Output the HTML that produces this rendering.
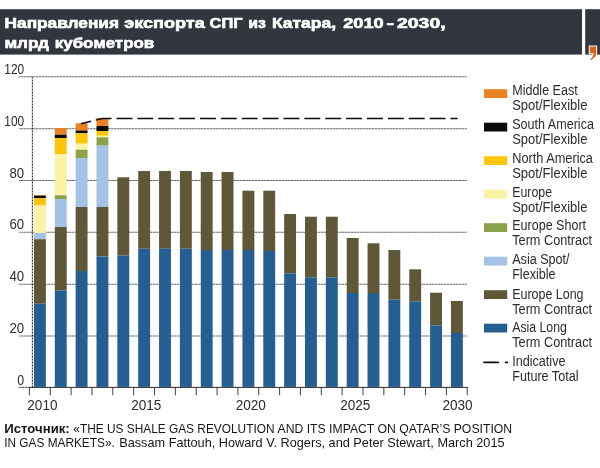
<!DOCTYPE html>
<html lang="ru"><head><meta charset="utf-8"><title>Направления экспорта СПГ из Катара</title>
<style>
html,body{margin:0;padding:0;background:#fff;}
body{width:600px;height:468px;overflow:hidden;}
svg{display:block;}
text{font-family:"Liberation Sans",sans-serif;}
.t{font-weight:bold;font-size:14px;fill:#fff;stroke:#fff;stroke-width:.6px;}
.l{font-size:14px;fill:#2c2c2c;}
.a{font-size:14.3px;fill:#2c2c2c;}
.s{font-size:12.6px;fill:#161616;}
.g{stroke:#2c2c2c;stroke-width:1.1;stroke-dasharray:.9 .6;fill:none;}
</style></head><body>
<svg width="600" height="468" viewBox="0 0 600 468">
<rect width="600" height="468" fill="#fff"/>
<rect x="0" y="9.2" width="582" height="45.4" fill="#31363f"/>
<rect x="585.2" y="9.2" width="14.8" height="45.4" fill="#31363f"/>
<path d="M589.7 46.6H596.2V53.5C596.2 56.6 593.6 58.6 591 59.9L590.2 59C592 58 593.4 56.2 593.5 53.2H589.7Z" fill="#dc601d" stroke="#fff" stroke-width="2" stroke-linejoin="miter" paint-order="stroke"/>
<text class="t" y="27.8"><tspan x="4.6" textLength="114.4" lengthAdjust="spacingAndGlyphs">Направления</tspan> <tspan x="124.2" textLength="80.6" lengthAdjust="spacingAndGlyphs">экспорта</tspan> <tspan x="209.6" textLength="33" lengthAdjust="spacingAndGlyphs">СПГ</tspan> <tspan x="248.2" textLength="17.6" lengthAdjust="spacingAndGlyphs">из</tspan> <tspan x="272" textLength="64" lengthAdjust="spacingAndGlyphs">Катара,</tspan> <tspan x="343.2" textLength="40.6" lengthAdjust="spacingAndGlyphs">2010</tspan><tspan x="386.6" textLength="7.6" lengthAdjust="spacingAndGlyphs">-</tspan><tspan x="397" textLength="48.6" lengthAdjust="spacingAndGlyphs">2030,</tspan></text>
<text class="t" y="47.8" style="font-size:14.8px"><tspan x="4.4" textLength="44.6" lengthAdjust="spacingAndGlyphs">млрд</tspan> <tspan x="54.8" textLength="99.4" lengthAdjust="spacingAndGlyphs">кубометров</tspan></text>

<line class="g" x1="19.3" y1="76.8" x2="466.8" y2="76.8"/>
<line class="g" x1="19.3" y1="128.75" x2="466.8" y2="128.75"/>
<line class="g" x1="19.3" y1="180.5" x2="466.8" y2="180.5"/>
<line class="g" x1="19.3" y1="232.3" x2="466.8" y2="232.3"/>
<line class="g" x1="19.3" y1="284.25" x2="466.8" y2="284.25"/>
<line class="g" x1="19.3" y1="336" x2="466.8" y2="336"/>
<line class="g" x1="32.4" y1="77" x2="32.4" y2="387"/>
<text class="a" x="4.30" y="73.7" textLength="19.80" lengthAdjust="spacingAndGlyphs">120</text>
<text class="a" x="4.30" y="125.7" textLength="19.80" lengthAdjust="spacingAndGlyphs">100</text>
<text class="a" x="9.40" y="177.5" textLength="14.70" lengthAdjust="spacingAndGlyphs">80</text>
<text class="a" x="9.40" y="229.3" textLength="14.70" lengthAdjust="spacingAndGlyphs">60</text>
<text class="a" x="9.40" y="281.2" textLength="14.70" lengthAdjust="spacingAndGlyphs">40</text>
<text class="a" x="9.40" y="333" textLength="14.70" lengthAdjust="spacingAndGlyphs">20</text>
<text class="a" x="17.20" y="384.8" textLength="6.90" lengthAdjust="spacingAndGlyphs">0</text>
<rect x="33.95" y="195" width="11.9" height="0.70" fill="#e98223"/>
<rect x="33.95" y="195.7" width="11.9" height="2.60" fill="#0b0b0b"/>
<rect x="33.95" y="198.3" width="11.9" height="7.20" fill="#fdc60b"/>
<rect x="33.95" y="205.5" width="11.9" height="27.50" fill="#faf2a6"/>
<rect x="33.95" y="233" width="11.9" height="6.20" fill="#a4c2e3"/>
<rect x="33.95" y="239.2" width="11.9" height="64.55" fill="#5f5838"/>
<rect x="33.95" y="303.75" width="11.9" height="83.15" fill="#255f92"/>
<rect x="54.80" y="128" width="11.9" height="6.70" fill="#e98223"/>
<rect x="54.80" y="134.7" width="11.9" height="3.30" fill="#0b0b0b"/>
<rect x="54.80" y="138" width="11.9" height="16.30" fill="#fdc60b"/>
<rect x="54.80" y="154.3" width="11.9" height="41.00" fill="#faf2a6"/>
<rect x="54.80" y="195.3" width="11.9" height="3.70" fill="#8ba24a"/>
<rect x="54.80" y="199" width="11.9" height="28.00" fill="#a4c2e3"/>
<rect x="54.80" y="227" width="11.9" height="63.50" fill="#5f5838"/>
<rect x="54.80" y="290.5" width="11.9" height="96.40" fill="#255f92"/>
<rect x="75.65" y="123.3" width="11.9" height="7.20" fill="#e98223"/>
<rect x="75.65" y="130.5" width="11.9" height="2.80" fill="#0b0b0b"/>
<rect x="75.65" y="133.3" width="11.9" height="10.40" fill="#fdc60b"/>
<rect x="75.65" y="143.7" width="11.9" height="6.00" fill="#faf2a6"/>
<rect x="75.65" y="149.7" width="11.9" height="8.30" fill="#8ba24a"/>
<rect x="75.65" y="158" width="11.9" height="49.00" fill="#a4c2e3"/>
<rect x="75.65" y="207" width="11.9" height="64.00" fill="#5f5838"/>
<rect x="75.65" y="271" width="11.9" height="115.90" fill="#255f92"/>
<rect x="96.50" y="118" width="11.9" height="8.00" fill="#e98223"/>
<rect x="96.50" y="126" width="11.9" height="5.00" fill="#0b0b0b"/>
<rect x="96.50" y="131" width="11.9" height="4.80" fill="#fdc60b"/>
<rect x="96.50" y="135.8" width="11.9" height="1.50" fill="#faf2a6"/>
<rect x="96.50" y="137.3" width="11.9" height="8.40" fill="#8ba24a"/>
<rect x="96.50" y="145.7" width="11.9" height="61.30" fill="#a4c2e3"/>
<rect x="96.50" y="207" width="11.9" height="49.50" fill="#5f5838"/>
<rect x="96.50" y="256.5" width="11.9" height="130.40" fill="#255f92"/>
<rect x="117.35" y="177.3" width="11.9" height="78.30" fill="#5f5838"/>
<rect x="117.35" y="255.6" width="11.9" height="131.30" fill="#255f92"/>
<rect x="138.20" y="171" width="11.9" height="77.70" fill="#5f5838"/>
<rect x="138.20" y="248.7" width="11.9" height="138.20" fill="#255f92"/>
<rect x="159.05" y="171" width="11.9" height="77.70" fill="#5f5838"/>
<rect x="159.05" y="248.7" width="11.9" height="138.20" fill="#255f92"/>
<rect x="179.90" y="171" width="11.9" height="77.70" fill="#5f5838"/>
<rect x="179.90" y="248.7" width="11.9" height="138.20" fill="#255f92"/>
<rect x="200.75" y="172" width="11.9" height="78.00" fill="#5f5838"/>
<rect x="200.75" y="250" width="11.9" height="136.90" fill="#255f92"/>
<rect x="221.60" y="172" width="11.9" height="78.00" fill="#5f5838"/>
<rect x="221.60" y="250" width="11.9" height="136.90" fill="#255f92"/>
<rect x="242.45" y="190.7" width="11.9" height="59.30" fill="#5f5838"/>
<rect x="242.45" y="250" width="11.9" height="136.90" fill="#255f92"/>
<rect x="263.30" y="190.7" width="11.9" height="60.30" fill="#5f5838"/>
<rect x="263.30" y="251" width="11.9" height="135.90" fill="#255f92"/>
<rect x="284.15" y="214" width="11.9" height="59.30" fill="#5f5838"/>
<rect x="284.15" y="273.3" width="11.9" height="113.60" fill="#255f92"/>
<rect x="305.00" y="216.7" width="11.9" height="60.60" fill="#5f5838"/>
<rect x="305.00" y="277.3" width="11.9" height="109.60" fill="#255f92"/>
<rect x="325.85" y="216.7" width="11.9" height="60.60" fill="#5f5838"/>
<rect x="325.85" y="277.3" width="11.9" height="109.60" fill="#255f92"/>
<rect x="346.70" y="238" width="11.9" height="55.00" fill="#5f5838"/>
<rect x="346.70" y="293" width="11.9" height="93.90" fill="#255f92"/>
<rect x="367.55" y="243.3" width="11.9" height="49.70" fill="#5f5838"/>
<rect x="367.55" y="293" width="11.9" height="93.90" fill="#255f92"/>
<rect x="388.40" y="250" width="11.9" height="49.70" fill="#5f5838"/>
<rect x="388.40" y="299.7" width="11.9" height="87.20" fill="#255f92"/>
<rect x="409.25" y="269.3" width="11.9" height="32.00" fill="#5f5838"/>
<rect x="409.25" y="301.3" width="11.9" height="85.60" fill="#255f92"/>
<rect x="430.10" y="292.7" width="11.9" height="32.60" fill="#5f5838"/>
<rect x="430.10" y="325.3" width="11.9" height="61.60" fill="#255f92"/>
<rect x="450.95" y="301" width="11.9" height="32.00" fill="#5f5838"/>
<rect x="450.95" y="333" width="11.9" height="53.90" fill="#255f92"/>
<path d="M81 123.8L102 118.6H457.6" fill="none" stroke="#0b0b0b" stroke-width="1.5" stroke-dasharray="15.9 4.975" stroke-dashoffset="5.6"/>
<line class="g" x1="18.8" y1="387.4" x2="29.4" y2="387.4"/>
<line x1="29" y1="387.4" x2="467.7" y2="387.4" stroke="#2a2a2a" stroke-width="1"/>
<line x1="29.40" y1="387.4" x2="29.40" y2="395.2" stroke="#2a2a2a" stroke-width=".9"/>
<line x1="50.25" y1="387.4" x2="50.25" y2="395.2" stroke="#2a2a2a" stroke-width=".9"/>
<line x1="71.10" y1="387.4" x2="71.10" y2="395.2" stroke="#2a2a2a" stroke-width=".9"/>
<line x1="91.95" y1="387.4" x2="91.95" y2="395.2" stroke="#2a2a2a" stroke-width=".9"/>
<line x1="112.80" y1="387.4" x2="112.80" y2="395.2" stroke="#2a2a2a" stroke-width=".9"/>
<line x1="133.65" y1="387.4" x2="133.65" y2="395.2" stroke="#2a2a2a" stroke-width=".9"/>
<line x1="154.50" y1="387.4" x2="154.50" y2="395.2" stroke="#2a2a2a" stroke-width=".9"/>
<line x1="175.35" y1="387.4" x2="175.35" y2="395.2" stroke="#2a2a2a" stroke-width=".9"/>
<line x1="196.20" y1="387.4" x2="196.20" y2="395.2" stroke="#2a2a2a" stroke-width=".9"/>
<line x1="217.05" y1="387.4" x2="217.05" y2="395.2" stroke="#2a2a2a" stroke-width=".9"/>
<line x1="237.90" y1="387.4" x2="237.90" y2="395.2" stroke="#2a2a2a" stroke-width=".9"/>
<line x1="258.75" y1="387.4" x2="258.75" y2="395.2" stroke="#2a2a2a" stroke-width=".9"/>
<line x1="279.60" y1="387.4" x2="279.60" y2="395.2" stroke="#2a2a2a" stroke-width=".9"/>
<line x1="300.45" y1="387.4" x2="300.45" y2="395.2" stroke="#2a2a2a" stroke-width=".9"/>
<line x1="321.30" y1="387.4" x2="321.30" y2="395.2" stroke="#2a2a2a" stroke-width=".9"/>
<line x1="342.15" y1="387.4" x2="342.15" y2="395.2" stroke="#2a2a2a" stroke-width=".9"/>
<line x1="363.00" y1="387.4" x2="363.00" y2="395.2" stroke="#2a2a2a" stroke-width=".9"/>
<line x1="383.85" y1="387.4" x2="383.85" y2="395.2" stroke="#2a2a2a" stroke-width=".9"/>
<line x1="404.70" y1="387.4" x2="404.70" y2="395.2" stroke="#2a2a2a" stroke-width=".9"/>
<line x1="425.55" y1="387.4" x2="425.55" y2="395.2" stroke="#2a2a2a" stroke-width=".9"/>
<line x1="446.40" y1="387.4" x2="446.40" y2="395.2" stroke="#2a2a2a" stroke-width=".9"/>
<line x1="467.25" y1="387.4" x2="467.25" y2="395.2" stroke="#2a2a2a" stroke-width=".9"/>
<text class="a" x="27.3" y="409.9" textLength="30.2" lengthAdjust="spacingAndGlyphs">2010</text>
<text class="a" x="131.2" y="409.9" textLength="30.2" lengthAdjust="spacingAndGlyphs">2015</text>
<text class="a" x="235.7" y="409.9" textLength="30.2" lengthAdjust="spacingAndGlyphs">2020</text>
<text class="a" x="340.2" y="409.9" textLength="30.2" lengthAdjust="spacingAndGlyphs">2025</text>
<text class="a" x="442.4" y="409.9" textLength="30.2" lengthAdjust="spacingAndGlyphs">2030</text>
<rect x="484" y="89.20" width="23.2" height="8.8" fill="#e98223"/>
<rect x="484" y="122.70" width="23.2" height="8.8" fill="#0b0b0b"/>
<rect x="484" y="156.20" width="23.2" height="8.8" fill="#fdc60b"/>
<rect x="484" y="189.70" width="23.2" height="8.8" fill="#faf2a6"/>
<rect x="484" y="223.20" width="23.2" height="8.8" fill="#8ba24a"/>
<rect x="484" y="256.70" width="23.2" height="8.8" fill="#a4c2e3"/>
<rect x="484" y="290.20" width="23.2" height="8.8" fill="#5f5838"/>
<rect x="484" y="323.70" width="23.2" height="8.8" fill="#255f92"/>
<path d="M484.2 362.4H498.2M505.9 362.4h1.3" stroke="#0b0b0b" stroke-width="1.9" stroke-linecap="round" fill="none"/>
<text class="l" x="512.2" y="94.55" textLength="65.5" lengthAdjust="spacingAndGlyphs">Middle East</text>
<text class="l" x="512.2" y="109.55" textLength="75.2" lengthAdjust="spacingAndGlyphs">Spot/Flexible</text>
<text class="l" x="512.2" y="128.75" textLength="81.75" lengthAdjust="spacingAndGlyphs">South America</text>
<text class="l" x="512.2" y="143.75" textLength="75.2" lengthAdjust="spacingAndGlyphs">Spot/Flexible</text>
<text class="l" x="512.2" y="162.65" textLength="80.75" lengthAdjust="spacingAndGlyphs">North America</text>
<text class="l" x="512.2" y="177.65" textLength="75.2" lengthAdjust="spacingAndGlyphs">Spot/Flexible</text>
<text class="l" x="512.2" y="196.55" textLength="39.9" lengthAdjust="spacingAndGlyphs">Europe</text>
<text class="l" x="512.2" y="211.55" textLength="75.2" lengthAdjust="spacingAndGlyphs">Spot/Flexible</text>
<text class="l" x="512.2" y="230.35" textLength="73.9" lengthAdjust="spacingAndGlyphs">Europe Short</text>
<text class="l" x="512.2" y="245.35" textLength="79.9" lengthAdjust="spacingAndGlyphs">Term Contract</text>
<text class="l" x="512.2" y="264.15" textLength="57.4" lengthAdjust="spacingAndGlyphs">Asia Spot/</text>
<text class="l" x="512.2" y="279.15" textLength="43.3" lengthAdjust="spacingAndGlyphs">Flexible</text>
<text class="l" x="512.2" y="298.65" textLength="71.3" lengthAdjust="spacingAndGlyphs">Europe Long</text>
<text class="l" x="512.2" y="313.65" textLength="79.9" lengthAdjust="spacingAndGlyphs">Term Contract</text>
<text class="l" x="512.2" y="332.40" textLength="54.6" lengthAdjust="spacingAndGlyphs">Asia Long</text>
<text class="l" x="512.2" y="347.40" textLength="79.9" lengthAdjust="spacingAndGlyphs">Term Contract</text>
<text class="l" x="512.2" y="366.15" textLength="53.3" lengthAdjust="spacingAndGlyphs">Indicative</text>
<text class="l" x="512.2" y="381.15" textLength="66.3" lengthAdjust="spacingAndGlyphs">Future Total</text>
<text class="s" y="433.3"><tspan x="4.3" font-weight="bold" textLength="65.4" lengthAdjust="spacingAndGlyphs">Источник:</tspan> <tspan x="73.3" textLength="201.2" lengthAdjust="spacingAndGlyphs">«THE US SHALE GAS REVOLUTION</tspan> <tspan x="277.5" textLength="234.6" lengthAdjust="spacingAndGlyphs">AND ITS IMPACT ON QATAR’S POSITION</tspan></text>
<text class="s" y="446.7"><tspan x="4.2" textLength="110.6" lengthAdjust="spacingAndGlyphs">IN GAS MARKETS».</tspan> <tspan x="119.2" textLength="385.4" lengthAdjust="spacingAndGlyphs">Bassam Fattouh, Howard V. Rogers, and Peter Stewart, March 2015</tspan></text>
</svg></body></html>
